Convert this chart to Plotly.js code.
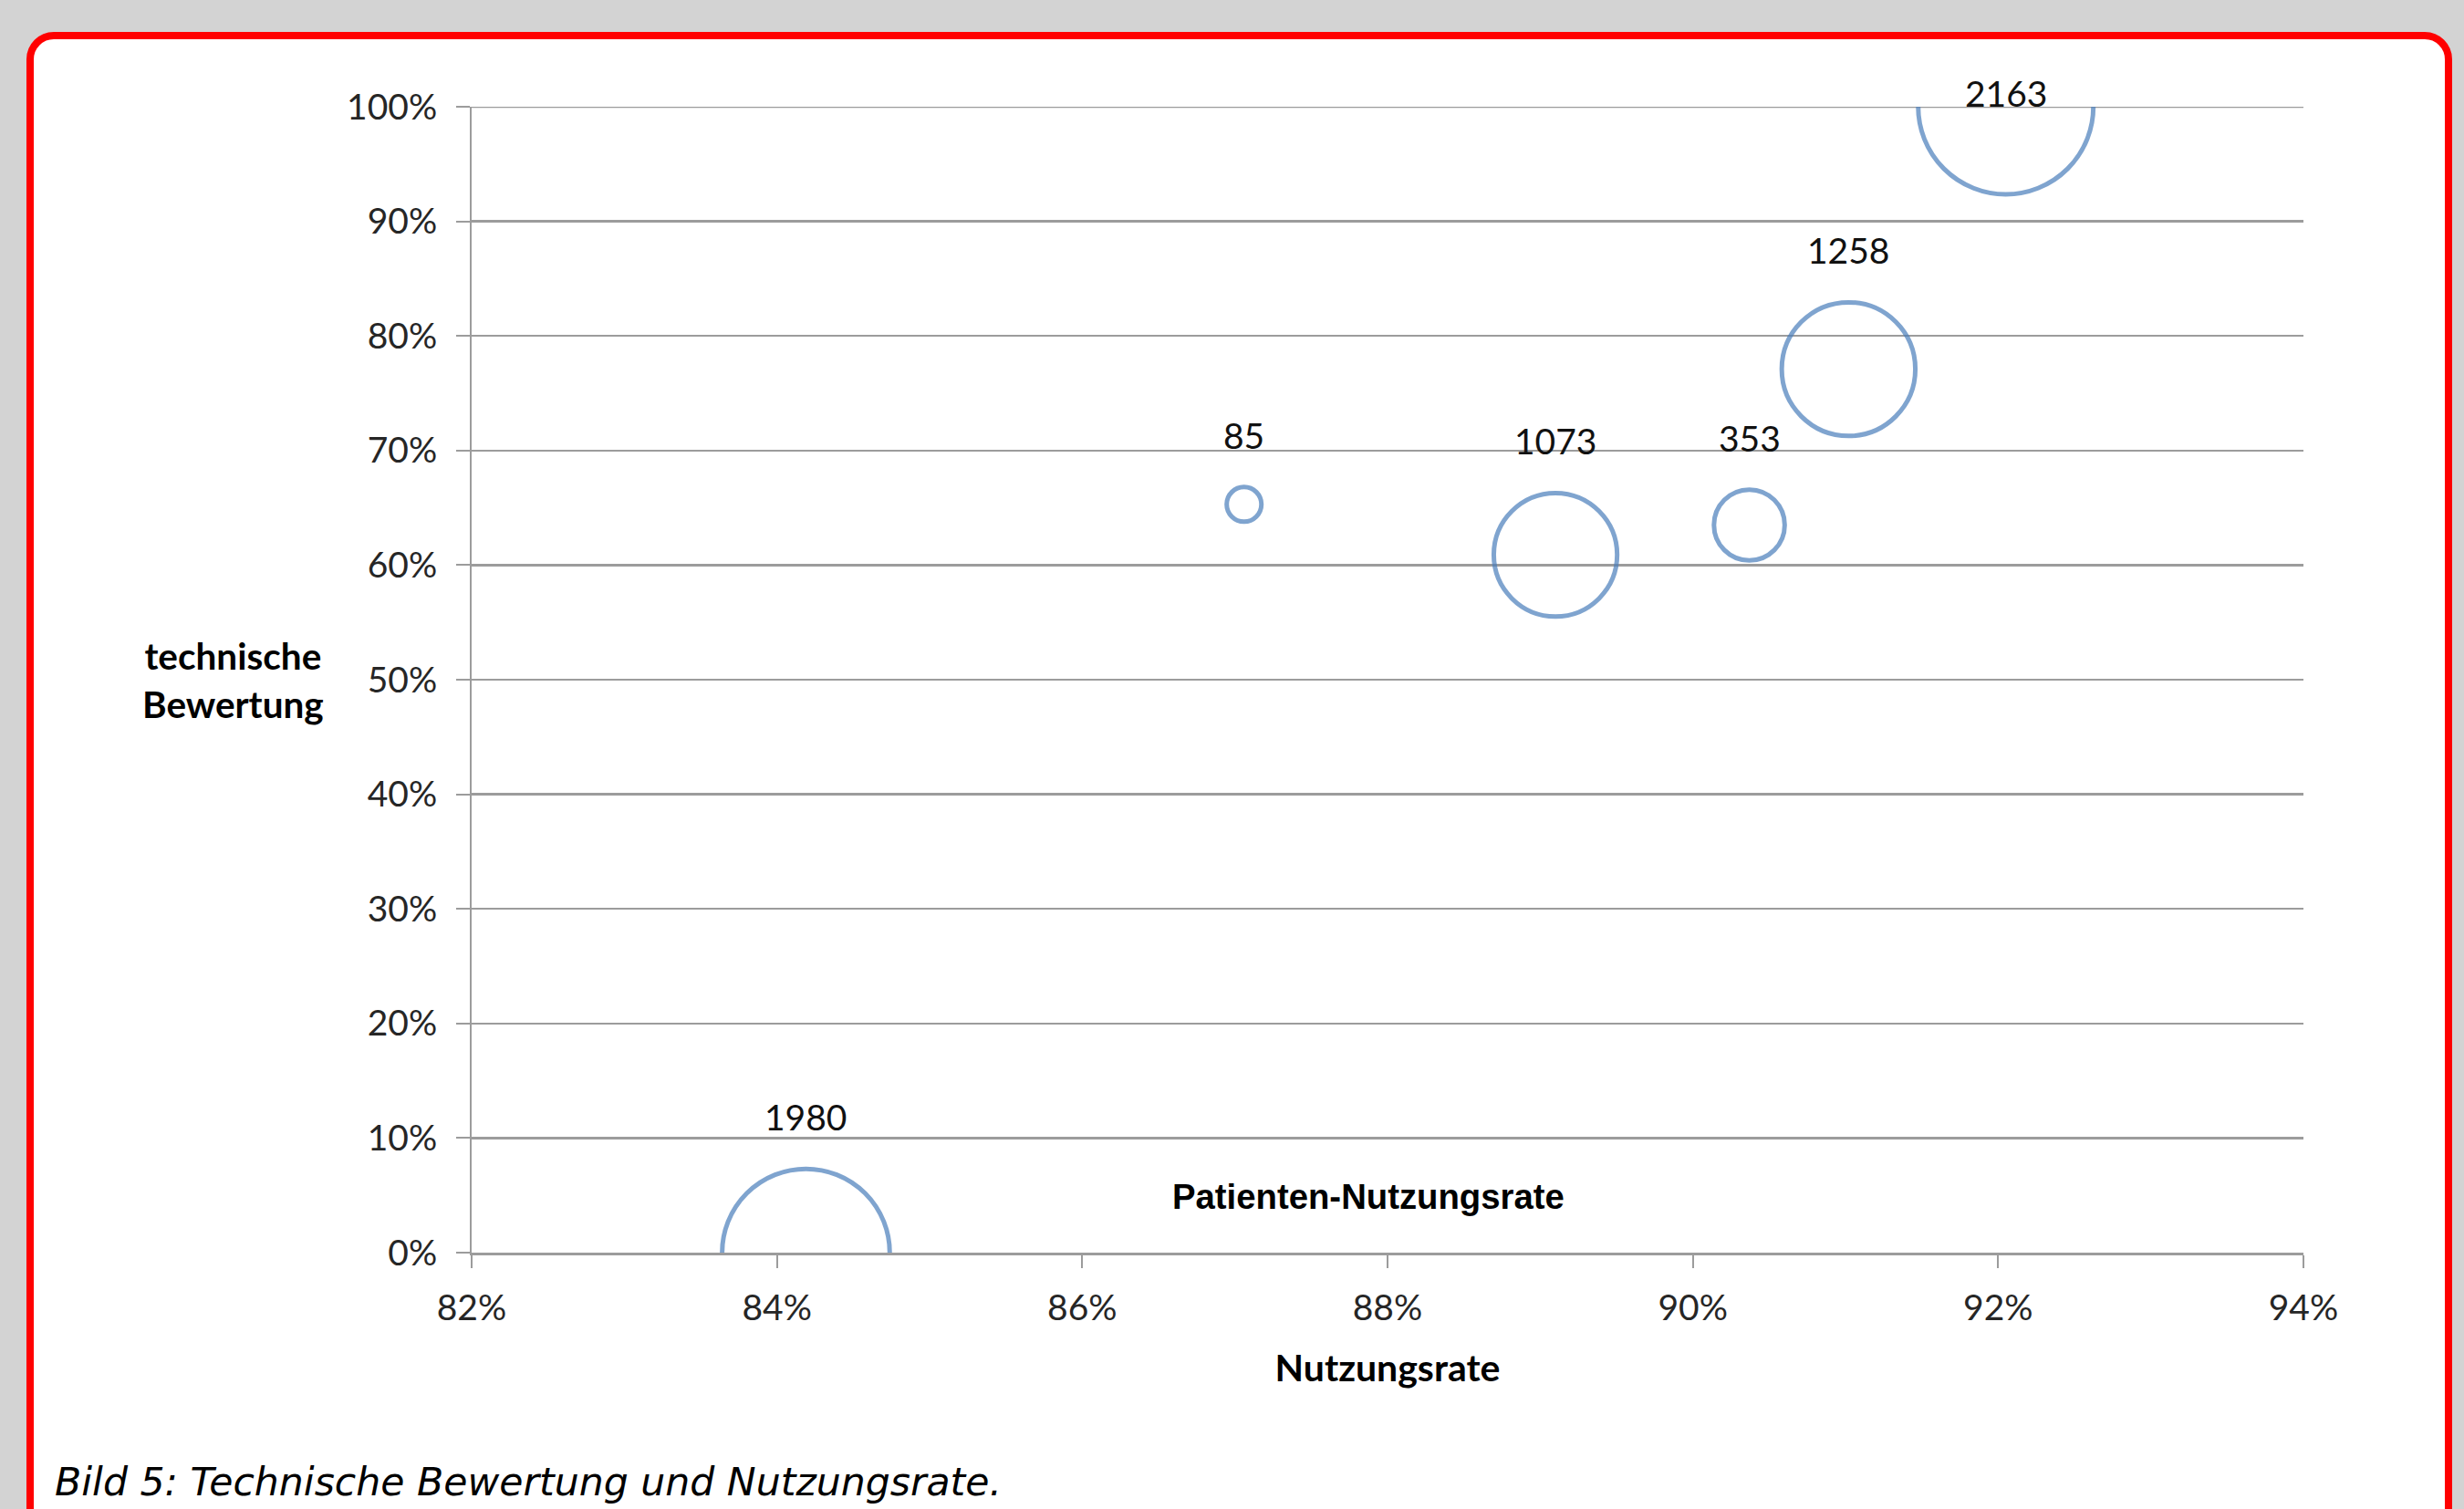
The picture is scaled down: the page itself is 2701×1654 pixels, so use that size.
<!DOCTYPE html>
<html>
<head>
<meta charset="utf-8">
<script src="https://cdn.plot.ly/plotly-3.0.1.min.js"></script>
<style>
  html, body { margin: 0; padding: 0; width: 2701px; height: 1654px; overflow: hidden; background: #d3d3d3; }
  #frame { position: absolute; left: 29px; top: 35px; width: 2659px; height: 1720px; box-sizing: border-box;
           border: 8px solid #ff0000; border-radius: 30px; background: #ffffff; }
  #chart { position: absolute; left: 0; top: 0; width: 2701px; height: 1654px; }
  #caption { position: absolute; left: 60px; top: 1603px; font-family: "DejaVu Sans", sans-serif; font-style: italic;
             font-size: 42.6px; line-height: 42px; color: #000; white-space: nowrap; }
</style>
</head>
<body>
<div id="frame"></div>
<div id="chart"></div>
<div id="caption">Bild 5: Technische Bewertung und Nutzungsrate.</div>
<script>
// ---- data ----
const nutzungsrate        = [84.19, 87.06, 89.10, 90.37, 91.02, 92.05];   // x, %
const technischeBewertung = [0, 65.3, 60.9, 63.5, 77.1, 100];             // y, %
const patientenzahl       = [1980, 85, 1073, 353, 1258, 2163];            // bubble size & label
const xTickVals = [82, 84, 86, 88, 90, 92, 94];
const yTickVals = [0, 10, 20, 30, 40, 50, 60, 70, 80, 90, 100];

// ---- styling / layout constants ----
const W = 2701, H = 1654;
const M = {l: 517, r: 176, t: 117, b: 281};
const plotH = H - M.t - M.b;
const yMin = 0, yMax = 100;
const maxDiameter = 192;
const sizeref = 2 * Math.max(...patientenzahl) / (maxDiameter * maxDiameter);
const radius = v => Math.sqrt(v / 2 / sizeref);
const pxPerY = plotH / (yMax - yMin);
const blue = '#4A7EBB';
const gridGray = '#9c9c9c';
const tickFont = {family: 'Lato, sans-serif', size: 39, color: '#262626'};
const labelGap = 42, descent = 10;

const bubbles = {
  type: 'scatter', mode: 'markers',
  x: nutzungsrate, y: technischeBewertung,
  marker: {size: patientenzahl, sizemode: 'area', sizeref: sizeref,
           color: 'rgba(0,0,0,0)', line: {color: blue, width: 5}},
  cliponaxis: true, hoverinfo: 'skip', showlegend: false
};

const annotations = patientenzahl.map((v, i) => {
  const room = (yMax - technischeBewertung[i]) * pxPerY;
  return {
    x: nutzungsrate[i], y: technischeBewertung[i], xref: 'x', yref: 'y',
    text: String(v), showarrow: false, xanchor: 'center', yanchor: 'bottom',
    yshift: Math.min(radius(v) + labelGap, room) - descent,
    font: {family: 'Lato, sans-serif', size: 39, color: '#111111'}
  };
});

annotations.push({
  xref: 'paper', yref: 'paper', x: (255 - M.l) / (W - M.l - M.r), y: 0.5,
  xanchor: 'center', yanchor: 'middle', showarrow: false, align: 'center',
  text: '<b>technische<br>Bewertung</b>',
  font: {family: 'Lato, sans-serif', size: 40.5, color: '#000000'}
});
annotations.push({
  xref: 'paper', yref: 'paper', x: (1500 - M.l) / (W - M.l - M.r), y: (1373 - 1311) / plotH,
  xanchor: 'center', yanchor: 'middle', showarrow: false,
  text: '<b>Patienten-Nutzungsrate</b>',
  font: {family: '"Liberation Sans", Arial, sans-serif', size: 38.3, color: '#000000'}
});

const layout = {
  width: W, height: H,
  margin: {l: M.l, r: M.r, t: M.t, b: M.b, pad: 0},
  paper_bgcolor: 'rgba(0,0,0,0)', plot_bgcolor: 'rgba(0,0,0,0)',
  showlegend: false,
  xaxis: {
    range: [xTickVals[0], xTickVals[xTickVals.length - 1]],
    tickmode: 'array', tickvals: xTickVals, ticktext: xTickVals.map(v => v + '%'),
    showgrid: false, zeroline: false,
    showline: true, linecolor: gridGray, linewidth: 3,
    ticks: 'outside', ticklen: 14, tickwidth: 2, tickcolor: gridGray,
    ticklabelstandoff: 10,
    tickfont: tickFont,
    automargin: true,
    title: {text: '<b>Nutzungsrate</b>', standoff: 32,
            font: {family: 'Lato, sans-serif', size: 41, color: '#000000'}}
  },
  yaxis: {
    range: [yMin, yMax],
    tickmode: 'array', tickvals: yTickVals, ticktext: yTickVals.map(v => v + '%'),
    showgrid: true, gridcolor: gridGray, gridwidth: 2.5, zeroline: false,
    showline: true, linecolor: gridGray, linewidth: 2,
    ticks: 'outside', ticklen: 15, tickwidth: 2, tickcolor: gridGray,
    ticklabelstandoff: 13,
    tickfont: tickFont,
    automargin: false
  },
  shapes: [{
    type: 'line', layer: 'below', xref: 'paper', yref: 'y',
    x0: 0, x1: 1, y0: yMax, y1: yMax,
    line: {color: gridGray, width: 2.5}
  }],
  annotations: annotations
};

Plotly.newPlot('chart', [bubbles], layout, {displayModeBar: false, staticPlot: true});
</script>
</body>
</html>
